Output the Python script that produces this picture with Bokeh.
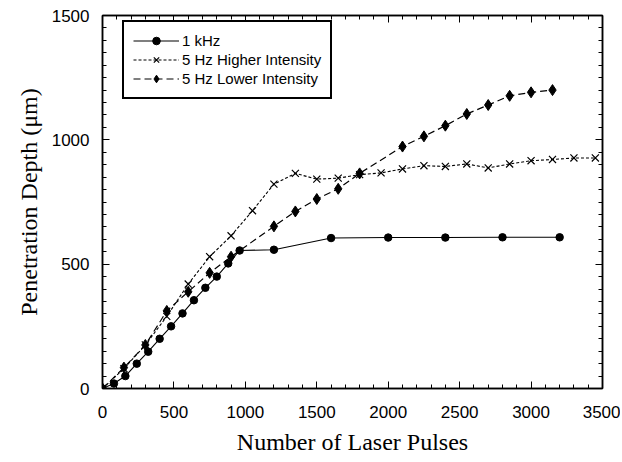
from bokeh.plotting import figure
from bokeh.models import Range1d, LinearAxis, SingleIntervalTicker, Legend, LegendItem
from bokeh.embed import file_html
from bokeh.resources import INLINE

# 1 kHz
khz_x = [0, 80, 160, 240, 320, 400, 480, 560, 640, 720, 800, 880, 960, 1200, 1600, 2000, 2400, 2800, 3200]
khz_y = [0, 20, 50, 100, 148, 200, 250, 302, 355, 405, 450, 503, 555, 558, 605, 607, 607, 608, 608]

# 5 Hz Higher Intensity
hi_x = [0, 150, 300, 450, 600, 750, 900, 1050, 1200, 1350, 1500, 1650, 1800, 1950, 2100, 2250,
        2400, 2550, 2700, 2850, 3000, 3150, 3300, 3450]
hi_y = [0, 80, 175, 290, 420, 530, 614, 715, 822, 865, 842, 846, 860, 867, 883, 896,
        893, 903, 887, 903, 916, 921, 927, 927]

# 5 Hz Lower Intensity
lo_x = [0, 150, 300, 450, 600, 750, 900, 1200, 1350, 1500, 1650, 1800, 2100, 2250, 2400, 2550,
        2700, 2850, 3000, 3150]
lo_y = [0, 84, 175, 312, 389, 465, 530, 652, 712, 762, 803, 865, 973, 1014, 1057, 1104,
        1140, 1177, 1191, 1200]

x_label = "Number of Laser Pulses"
y_label = "Penetration Depth (\u03bcm)"
names = ["1 kHz", "5 Hz Higher Intensity", "5 Hz Lower Intensity"]

p = figure(width=620, height=460, output_backend="svg", toolbar_location=None,
           x_range=Range1d(0, 3500), y_range=Range1d(0, 1500),
           min_border_left=102, min_border_right=18, min_border_top=15, min_border_bottom=72)
p.xgrid.visible = False
p.ygrid.visible = False
p.outline_line_color = "black"
p.outline_line_width = 1.5
p.background_fill_color = "white"

def style_axis(ax, xdir, labels=True):
    ax.ticker = SingleIntervalTicker(interval=500, num_minor_ticks=5 if xdir else 10)
    ax.major_tick_in = 7
    ax.major_tick_out = 0
    ax.minor_tick_in = 4
    ax.minor_tick_out = 0
    ax.axis_line_color = "black"
    ax.axis_line_width = 1.5
    ax.major_tick_line_color = "black"
    ax.minor_tick_line_color = "black"
    ax.major_label_text_font = "Liberation Sans"
    ax.major_label_text_font_size = "17px"
    ax.major_label_text_color = "black"
    ax.major_label_standoff = 17 if xdir else 13
    if not labels:
        ax.major_label_text_color = None

style_axis(p.xaxis[0], True)
style_axis(p.yaxis[0], False)
p.xaxis[0].axis_label = x_label
p.yaxis[0].axis_label = y_label
for ax in (p.xaxis[0], p.yaxis[0]):
    ax.axis_label_text_font = "Liberation Serif"
    ax.axis_label_text_font_size = "24px"
    ax.axis_label_text_font_style = "normal"
    ax.axis_label_text_color = "black"
p.xaxis[0].axis_label_standoff = 8
p.yaxis[0].axis_label_standoff = 7

top = LinearAxis()
style_axis(top, True, labels=False)
p.add_layout(top, "above")
right = LinearAxis()
style_axis(right, False, labels=False)
p.add_layout(right, "right")

r1 = p.line(khz_x, khz_y, line_color="black", line_width=1.1)
m1 = p.scatter(khz_x, khz_y, marker="circle", size=7.5, fill_color="black", line_color="black")
r2 = p.line(hi_x, hi_y, line_color="black", line_width=1.1, line_dash="3 2")
m2 = p.scatter(hi_x, hi_y, marker="x", size=10, line_color="black", line_width=1.2)
r3 = p.line(lo_x, lo_y, line_color="black", line_width=1.2, line_dash="7 4")
m3 = p.scatter(lo_x, lo_y, marker="diamond", size=11, fill_color="black", line_color="black")

legend = Legend(items=[LegendItem(label=names[0], renderers=[r1, m1]),
                       LegendItem(label=names[1], renderers=[r2, m2]),
                       LegendItem(label=names[2], renderers=[r3, m3])],
                location=(20, 289))
legend.border_line_color = "black"
legend.border_line_alpha = 1.0
legend.border_line_width = 2.5
legend.background_fill_alpha = 1.0
legend.label_text_font = "Liberation Sans"
legend.label_text_font_size = "15px"
legend.label_text_color = "black"
legend.glyph_width = 46
legend.glyph_height = 19
legend.label_height = 19
legend.spacing = 0
legend.padding = 9
legend.margin = 0
legend.label_standoff = 3
p.add_layout(legend)

open("out.html", "w").write(file_html(p, INLINE))
